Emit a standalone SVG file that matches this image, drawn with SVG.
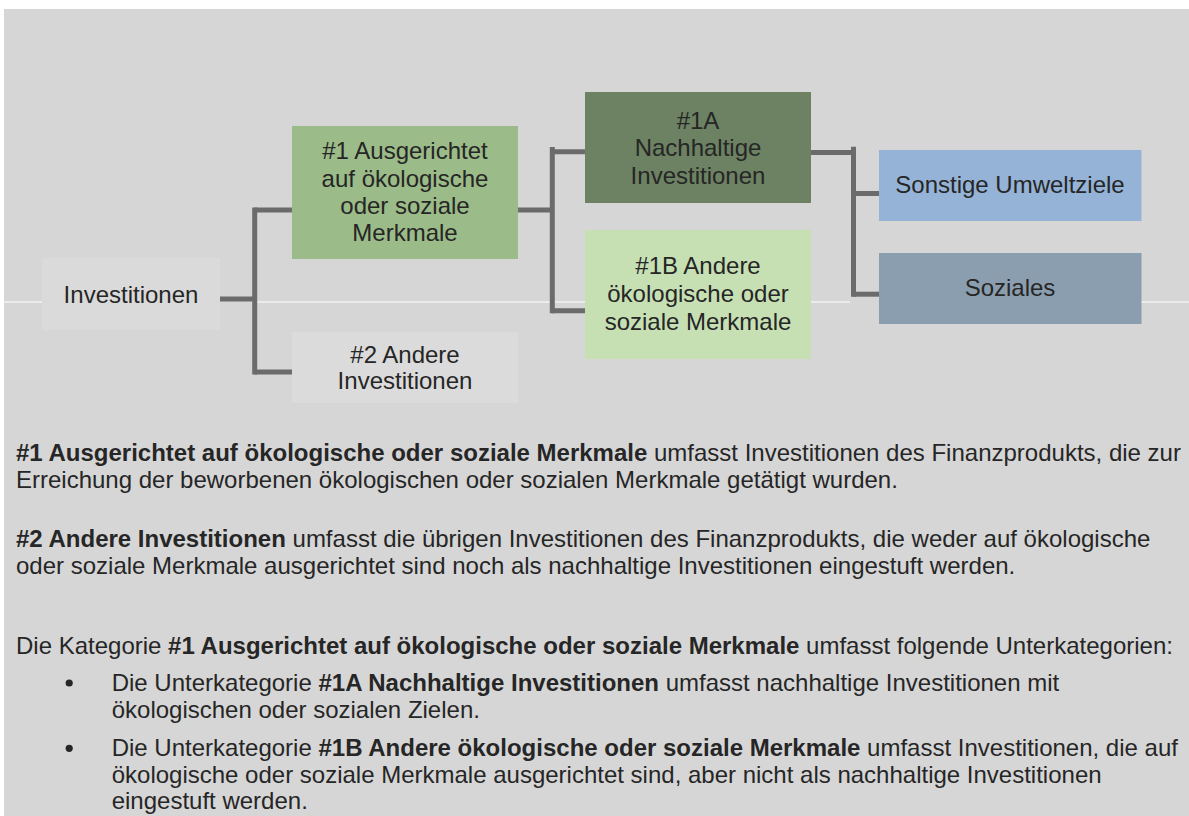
<svg xmlns="http://www.w3.org/2000/svg" width="1189" height="816" viewBox="0 0 1189 816">
<style>
  .t { font-family: "Liberation Sans", Arial, sans-serif; font-size: 24px; fill: #262626; }
  .c { text-anchor: middle; }
  .b { font-weight: bold; }
  .conn { stroke: #6b6b6b; stroke-width: 5; fill: none; stroke-linecap: butt; }
  .sep { stroke: #ffffff; stroke-width: 1.2; }
</style>
<rect x="0" y="0" width="1189" height="816" fill="#ffffff"/>
<rect x="4" y="9" width="1185" height="807" fill="#d6d6d6"/>
<g id="separator">
  <line class="sep" x1="4" y1="302" x2="42" y2="302"/>
  <line class="sep" x1="252" y1="302" x2="585" y2="302"/>
  <line class="sep" x1="811" y1="302" x2="850" y2="302"/>
  <line class="sep" x1="1141" y1="302" x2="1189" y2="302"/>
</g>
<g id="connectors">
  <path class="conn" d="M220,299 H254.7"/>
  <path class="conn" d="M254.7,207.5 V374.5"/>
  <path class="conn" d="M254.7,210 H293"/>
  <path class="conn" d="M254.7,372 H292"/>
  <path class="conn" d="M518,210 H552.3"/>
  <path class="conn" d="M552.3,147 V313.3"/>
  <path class="conn" d="M552.3,151.7 H585"/>
  <path class="conn" d="M552.3,310.8 H585"/>
  <path class="conn" d="M811,152.5 H853.5"/>
  <path class="conn" d="M853.5,146.7 V296.7"/>
  <path class="conn" d="M853.5,193.5 H879"/>
  <path class="conn" d="M853.5,294.2 H879"/>
</g>
<g id="n-investitionen">
  <rect x="42" y="258" width="178" height="72" fill="#dadada"/>
  <text class="t c" x="131" y="302.7">Investitionen</text>
</g>
<g id="n-1">
  <rect x="292" y="126" width="226" height="133" fill="#9bbb88"/>
  <text class="t c" x="405" y="159.3">#1 Ausgerichtet</text>
  <text class="t c" x="405" y="186.7">auf ökologische</text>
  <text class="t c" x="405" y="214">oder soziale</text>
  <text class="t c" x="405" y="241.3">Merkmale</text>
</g>
<g id="n-2">
  <rect x="292" y="332" width="226" height="71" fill="#dbdbdb"/>
  <text class="t c" x="405" y="362.7">#2 Andere</text>
  <text class="t c" x="405" y="389.3">Investitionen</text>
</g>
<g id="n-1a">
  <rect x="585" y="92" width="226" height="111" fill="#6c8262"/>
  <text class="t c" x="698" y="129">#1A</text>
  <text class="t c" x="698" y="156">Nachhaltige</text>
  <text class="t c" x="698" y="184">Investitionen</text>
</g>
<g id="n-1b">
  <rect x="585" y="230" width="226" height="129" fill="#c6e0b4"/>
  <text class="t c" x="698" y="274.3">#1B Andere</text>
  <text class="t c" x="698" y="302.3">ökologische oder</text>
  <text class="t c" x="698" y="330">soziale Merkmale</text>
</g>
<g id="n-sonstige">
  <rect x="879" y="150" width="262.5" height="71" fill="#95b3d7"/>
  <text class="t c" x="1010" y="193.3">Sonstige Umweltziele</text>
</g>
<g id="n-soziales">
  <rect x="879" y="253" width="262.5" height="71" fill="#8b9eaf"/>
  <text class="t c" x="1010" y="296">Soziales</text>
</g>
<g id="legend">
  <text class="t" x="16" y="461"><tspan class="b">#1 Ausgerichtet auf ökologische oder soziale Merkmale</tspan> umfasst Investitionen des Finanzprodukts, die zur</text>
  <text class="t" x="16" y="488.3">Erreichung der beworbenen ökologischen oder sozialen Merkmale getätigt wurden.</text>
  <text class="t" x="16" y="546.7"><tspan class="b">#2 Andere Investitionen</tspan> umfasst die übrigen Investitionen des Finanzprodukts, die weder auf ökologische</text>
  <text class="t" x="16" y="574">oder soziale Merkmale ausgerichtet sind noch als nachhaltige Investitionen eingestuft werden.</text>
  <text class="t" x="16" y="654">Die Kategorie <tspan class="b">#1 Ausgerichtet auf ökologische oder soziale Merkmale</tspan> umfasst folgende Unterkategorien:</text>
  <circle cx="69.2" cy="683" r="3.6" fill="#262626"/>
  <text class="t" x="111.7" y="691">Die Unterkategorie <tspan class="b">#1A Nachhaltige Investitionen</tspan> umfasst nachhaltige Investitionen mit</text>
  <text class="t" x="111.7" y="718">ökologischen oder sozialen Zielen.</text>
  <circle cx="69.2" cy="748.3" r="3.6" fill="#262626"/>
  <text class="t" x="111.7" y="756">Die Unterkategorie <tspan class="b">#1B Andere ökologische oder soziale Merkmale</tspan> umfasst Investitionen, die auf</text>
  <text class="t" x="111.7" y="782.5">ökologische oder soziale Merkmale ausgerichtet sind, aber nicht als nachhaltige Investitionen</text>
  <text class="t" x="111.7" y="809.3">eingestuft werden.</text>
</g>
</svg>
